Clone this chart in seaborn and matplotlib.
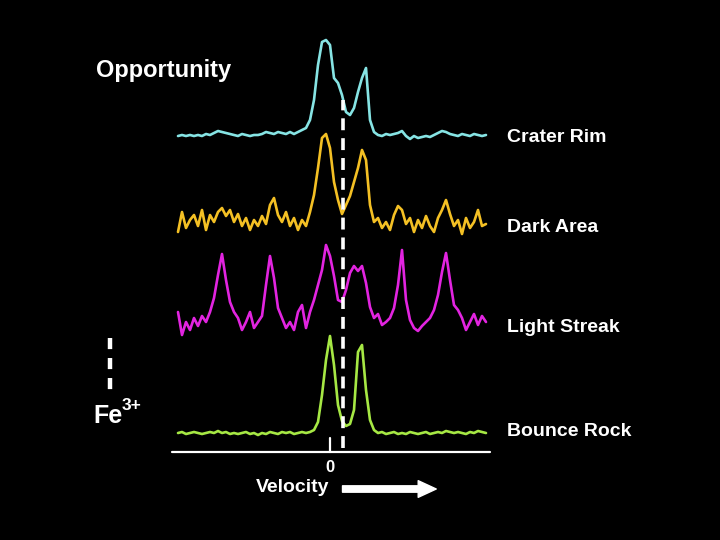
import numpy as np
import pandas as pd
import matplotlib
matplotlib.use('Agg')
import matplotlib.pyplot as plt
import seaborn as sns

# velocity channels (mm/s), one per spectrum point
velocity = np.linspace(-12.16, 12.48, 78)

# spectra heights above each baseline
crater_rim = [0, 1, 0, 1, 0, 1, 0, 2, 1, 3, 5, 4, 3, 2, 1, 0, 2, 1, 0, 1,
              1, 2, 4, 3, 2, 4, 3, 2, 4, 2, 4, 6, 8, 16, 36, 71, 94, 96, 91, 58,
              53, 41, 24, 21, 28, 44, 58, 68, 16, 4, 1, 0, 2, 1, 2, 3, 5, 0, -3, 0,
              -2, -1, 0, -1, 1, 3, 5, 4, 2, 1, 0, 2, 1, 0, 2, 1, 0, 1]
dark_area = [-10, 10, -6, 2, 7, -4, 12, -8, 7, 0, 10, 14, 6, 12, 0, 8, -4, 4, -8, 2,
             -4, 6, -2, 17, 24, 7, 0, 10, -4, 4, -8, 2, -4, 10, 27, 54, 84, 88, 74, 40,
             22, 8, 17, 26, 40, 54, 72, 62, 17, 0, 4, -6, 0, -8, 7, 16, 12, -2, 4, -10,
             2, -6, 6, -4, -10, 4, 12, 22, 8, -4, 2, -12, 4, -6, 0, 12, -4, -2]
light_streak = [10, -13, 0, -8, 4, -4, 6, 0, 10, 24, 47, 68, 42, 20, 10, 4, -8, 0, 10, -6,
                0, 6, 37, 66, 44, 14, 4, -6, 0, -8, 10, 17, -6, 10, 22, 37, 52, 77, 66, 46,
                22, 20, 32, 49, 56, 51, 56, 39, 15, 4, 8, -3, 0, 4, 14, 37, 72, 22, 2, -6,
                -9, -4, 0, 4, 12, 27, 50, 69, 42, 17, 12, 4, -8, 0, 8, -3, 6, 0]
bounce_rock = [0, 1, -1, 0, 1, 0, -1, 0, 1, 0, 2, 0, 1, -1, 0, -1, 0, 1, -1, 0,
               -2, 0, -1, 1, 0, -1, 1, 0, 1, -1, 0, 1, 0, 1, 3, 11, 38, 73, 97, 68,
               28, 12, 7, 9, 23, 81, 88, 43, 13, 3, 0, 1, -1, 0, 1, -1, 0, -1, 1, 0,
               -1, 0, 1, -1, 0, 1, 0, 2, 1, 0, 1, 0, -1, 1, 0, 2, 1, 0]

names = ['Crater Rim', 'Dark Area', 'Light Streak', 'Bounce Rock']
series = [crater_rim, dark_area, light_streak, bounce_rock]
offsets = [404, 318, 218, 107]
label_y = [402, 313, 213, 108]
colors = ['#86e4e4', '#f4c024', '#e224e0', '#a6e844']

fe3_shift = 1.04

sns.set_theme(style='dark', rc={'axes.facecolor': 'black', 'figure.facecolor': 'black'})
plt.rcParams['font.family'] = ['Liberation Sans', 'DejaVu Sans']

fig = plt.figure(figsize=(7.2, 5.4), dpi=100)
ax = fig.add_axes([0, 0, 1, 1])
ax.set_xlim(-26.4, 31.2)
ax.set_ylim(0, 540)
ax.axis('off')

for name, vals, off, ly, col in zip(names, series, offsets, label_y, colors):
    df = pd.DataFrame({'v': velocity, 'y': np.array(vals) + off})
    sns.lineplot(data=df, x='v', y='y', color=col, lw=1.9, ax=ax)
    ax.text(14.16, ly, name, color='white', fontsize=14, fontweight='bold',
            va='center', ha='left')

# velocity axis
ax.plot([-12.64, 12.8], [88, 88], color='white', lw=1.6)
ax.plot([0, 0], [88, 102], color='white', lw=1.6)
ax.text(0, 72, '0', color='white', fontsize=12, fontweight='bold', ha='center', va='center')
ax.text(-0.05, 53, 'Velocity', color='white', fontsize=14, fontweight='bold',
        ha='right', va='center')
ax.annotate('', xy=(8.5, 51), xytext=(1.0, 51),
            arrowprops=dict(facecolor='white', edgecolor='white', width=4.6,
                            headwidth=12, headlength=13))

# Fe3+ marker
ax.plot([fe3_shift, fe3_shift], [92, 440], color='white', lw=2.6, dashes=(3.3, 2.2))
ax.plot([-17.6, -17.6], [202, 148], color='white', lw=3.2, dashes=(2.5, 2.0))
ax.text(-18.9, 124, 'Fe', color='white', fontsize=18, fontweight='bold', ha='left', va='center')
ax.text(-16.7, 134, '3+', color='white', fontsize=12.5, fontweight='bold', ha='left', va='center')

ax.text(-18.7, 470, 'Opportunity', color='white', fontsize=17, fontweight='bold',
        ha='left', va='center')

fig.savefig('out.png', dpi=100, facecolor='black')
